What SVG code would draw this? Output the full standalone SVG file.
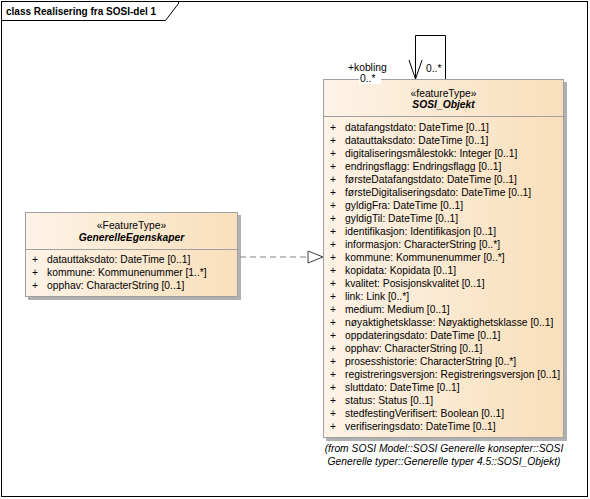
<svg xmlns="http://www.w3.org/2000/svg" width="590" height="499" viewBox="0 0 590 499">
<style>
text{font-family:"Liberation Sans",Arial,sans-serif;font-size:10.3px;fill:#000}
.b{font-weight:bold}
.bi{font-weight:bold;font-style:italic}
.i{font-style:italic}
.m{text-anchor:middle}
.box{stroke:#a0a0a0;stroke-width:1;fill:url(#g)}
.sh{fill:#b0b0b0}
.ln{stroke:#000;stroke-width:1;fill:none}
</style>
<defs>
<linearGradient id="g" x1="0" y1="0" x2="1" y2="0">
<stop offset="0" stop-color="#FDF3E7"/>
<stop offset="1" stop-color="#F9DFBB"/>
</linearGradient>
</defs>
<rect x="0" y="0" width="590" height="499" fill="#fff"/>
<g id="frame">
<rect x="1.5" y="1.5" width="586" height="495" fill="none" stroke="#000"/>
<path d="M1.5 20.5 H165.5 L178.5 3.5 V1.5" class="ln"/>
<text x="6" y="15" class="b" style="font-size:10px">class Realisering fra SOSI-del 1</text>
</g>
<g id="SOSI_Objekt">
<rect x="326" y="82" width="241" height="359" class="sh"/>
<rect x="323.5" y="79.5" width="240" height="358" class="box"/>
<line x1="323.5" y1="116.5" x2="563.5" y2="116.5" stroke="#a0a0a0"/>
<text x="443.5" y="97" class="m">«featureType»</text>
<text x="443.5" y="108" class="m bi">SOSI_Objekt</text>
<g>
<text x="330" y="131">+</text><text x="345" y="131">datafangstdato: DateTime [0..1]</text>
<text x="330" y="144">+</text><text x="345" y="144">datauttaksdato: DateTime [0..1]</text>
<text x="330" y="157">+</text><text x="345" y="157">digitaliseringsmålestokk: Integer [0..1]</text>
<text x="330" y="170">+</text><text x="345" y="170">endringsflagg: Endringsflagg [0..1]</text>
<text x="330" y="183">+</text><text x="345" y="183">førsteDatafangstdato: DateTime [0..1]</text>
<text x="330" y="196">+</text><text x="345" y="196">førsteDigitaliseringsdato: DateTime [0..1]</text>
<text x="330" y="209">+</text><text x="345" y="209">gyldigFra: DateTime [0..1]</text>
<text x="330" y="222">+</text><text x="345" y="222">gyldigTil: DateTime [0..1]</text>
<text x="330" y="235">+</text><text x="345" y="235">identifikasjon: Identifikasjon [0..1]</text>
<text x="330" y="248">+</text><text x="345" y="248">informasjon: CharacterString [0..*]</text>
<text x="330" y="261">+</text><text x="345" y="261">kommune: Kommunenummer [0..*]</text>
<text x="330" y="274">+</text><text x="345" y="274">kopidata: Kopidata [0..1]</text>
<text x="330" y="287">+</text><text x="345" y="287">kvalitet: Posisjonskvalitet [0..1]</text>
<text x="330" y="300">+</text><text x="345" y="300">link: Link [0..*]</text>
<text x="330" y="313">+</text><text x="345" y="313">medium: Medium [0..1]</text>
<text x="330" y="326">+</text><text x="345" y="326">nøyaktighetsklasse: Nøyaktighetsklasse [0..1]</text>
<text x="330" y="339">+</text><text x="345" y="339">oppdateringsdato: DateTime [0..1]</text>
<text x="330" y="352">+</text><text x="345" y="352">opphav: CharacterString [0..1]</text>
<text x="330" y="365">+</text><text x="345" y="365">prosesshistorie: CharacterString [0..*]</text>
<text x="330" y="378">+</text><text x="345" y="378">registreringsversjon: Registreringsversjon [0..1]</text>
<text x="330" y="391">+</text><text x="345" y="391">sluttdato: DateTime [0..1]</text>
<text x="330" y="404">+</text><text x="345" y="404">status: Status [0..1]</text>
<text x="330" y="417">+</text><text x="345" y="417">stedfestingVerifisert: Boolean [0..1]</text>
<text x="330" y="430">+</text><text x="345" y="430">verifiseringsdato: DateTime [0..1]</text>
</g>
<text x="444" y="452" class="m i">(from SOSI Model::SOSI Generelle konsepter::SOSI</text>
<text x="444" y="465" class="m i">Generelle typer::Generelle typer 4.5::SOSI_Objekt)</text>
</g>
<g id="GenerelleEgenskaper">
<rect x="28" y="215" width="213" height="85" class="sh"/>
<rect x="25.5" y="212.5" width="212" height="84" class="box"/>
<line x1="25.5" y1="249.5" x2="237.5" y2="249.5" stroke="#a0a0a0"/>
<text x="131.5" y="229" class="m">«FeatureType»</text>
<text x="131.5" y="241" class="m bi">GenerelleEgenskaper</text>
<text x="32" y="263">+</text><text x="47" y="263">datauttaksdato: DateTime [0..1]</text>
<text x="32" y="276">+</text><text x="47" y="276">kommune: Kommunenummer [1..*]</text>
<text x="32" y="289">+</text><text x="47" y="289">opphav: CharacterString [0..1]</text>
</g>
<g id="connectors">
<path d="M240 257 H308" stroke="#808080" stroke-width="1" stroke-dasharray="6,4" fill="none"/>
<path d="M308 251 L323 257 L308 263 Z" fill="#fff" stroke="#404040"/>
<path d="M415.5 79 V35.5 H445.5 V79" class="ln"/>
<path d="M409 60 L415.5 79 L422 60" class="ln"/>
<text x="348" y="71">+kobling</text>
<rect x="359" y="74" width="22" height="10" fill="#fff"/>
<text x="360" y="82">0..*</text>
<text x="426" y="72">0..*</text>
</g>
</svg>
